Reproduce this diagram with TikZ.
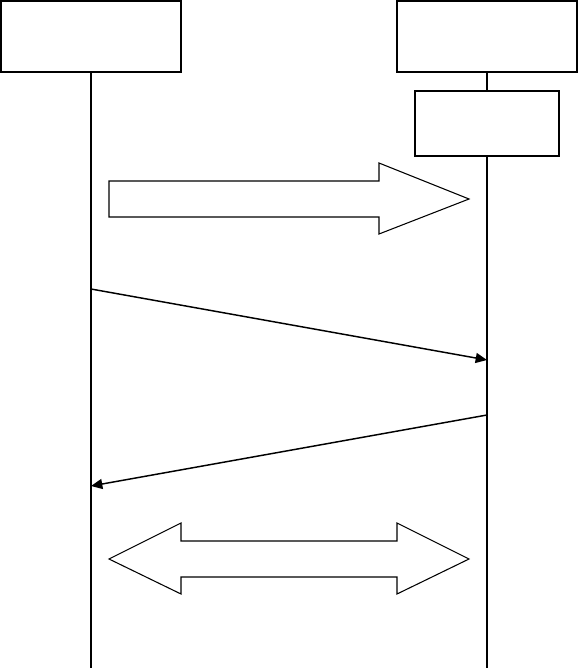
\documentclass[tikz,border=0pt]{standalone}
\usetikzlibrary{arrows.meta}
\begin{document}
\begin{tikzpicture}[x=0.75pt,y=-0.75pt,
  actor/.style={draw=black,line width=1.5pt,fill=white,inner sep=0pt,
    minimum width=135pt,minimum height=53.25pt},
  subbox/.style={draw=black,line width=1.5pt,fill=white,inner sep=0pt,
    minimum width=107.5pt,minimum height=48.75pt},
  life/.style={draw=black,line width=1.1pt},
  thinlife/.style={draw=black,line width=1pt},
  msg/.style={draw=black,line width=1.1pt,-{Triangle[length=8.5pt,width=7.5pt]}},
  block/.style={draw=black,line width=0.8pt,fill=white,line join=miter}]
\useasboundingbox (0,0) rectangle (578,668);
\node[actor] (A) at (91,36.5) {};
\node[actor] (B) at (487,36.5) {};
\node[subbox] (C) at (487,123.5) {};
\coordinate (Abot) at (91,668);
\coordinate (Bbot) at (487,668);
\coordinate (Bthin1) at (487,369);
\coordinate (Bthin2) at (487,414);
\draw[life] (A.south) -- (Abot);
\draw[life] (B.south) -- (C.north);
\draw[life] (C.south) -- (Bthin1);
\draw[thinlife] (Bthin1) -- (Bthin2);
\draw[life] (Bthin2) -- (Bbot);
% block arrow right
\draw[block] (109,181) -- (379,181) -- (379,163) -- (469,199) -- (379,234) -- (379,217) -- (109,217) -- cycle;
% messages
\coordinate (m1s) at (91,289);
\coordinate (m1e) at (487,360);
\coordinate (m2s) at (487,415);
\coordinate (m2e) at (91,486);
\draw[msg] (m1s) -- (m1e);
\draw[msg] (m2s) -- (m2e);
% double block arrow
\draw[block] (109,559) -- (181,523) -- (181,541) -- (397,541) -- (397,523) -- (469,559) -- (397,594) -- (397,577) -- (181,577) -- (181,594) -- cycle;
\end{tikzpicture}
\end{document}
